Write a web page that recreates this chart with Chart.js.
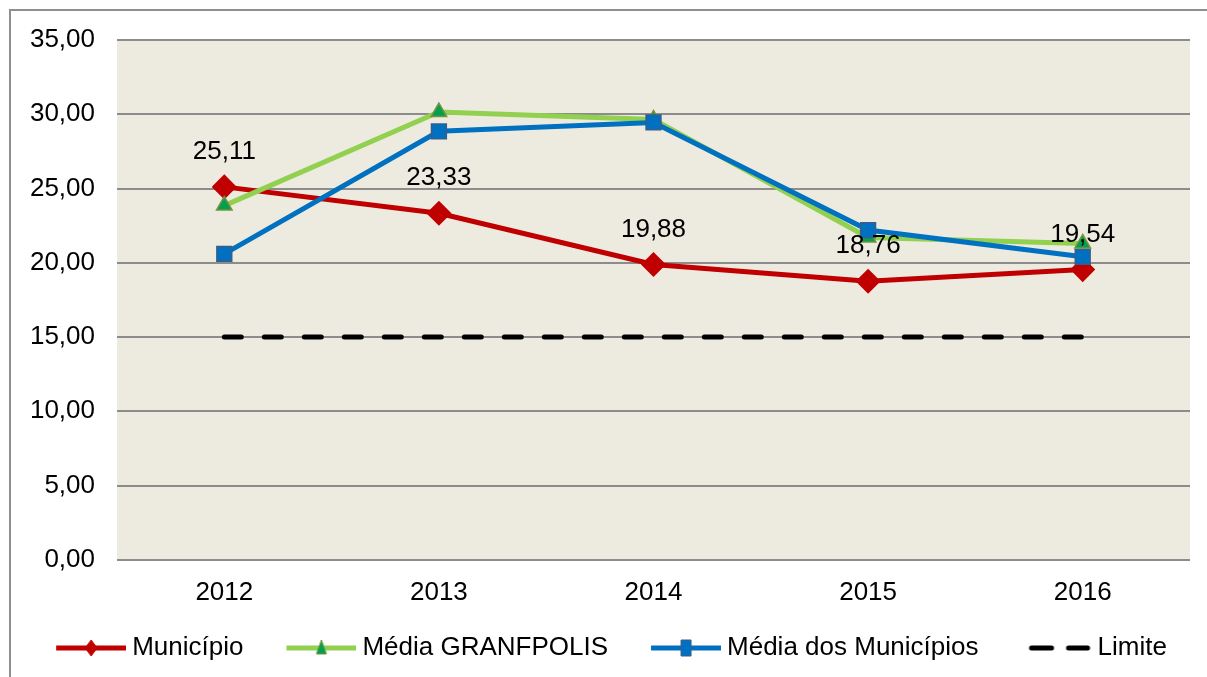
<!DOCTYPE html>
<html>
<head>
<meta charset="utf-8">
<script src="https://cdn.jsdelivr.net/npm/chart.js@4.4.1/dist/chart.umd.min.js"></script>
<style>
  html, body { margin: 0; padding: 0; background: #fff; overflow: hidden; }
  #frame { position: absolute; left: 9px; top: 9px; width: 1300px; height: 800px; border: 2px solid #8f8f8f; }
  #wrap { position: absolute; left: 0; top: 0; width: 1207px; height: 677px; }
</style>
</head>
<body>
<div id="frame"></div>
<div id="wrap"><canvas id="grafico"></canvas></div>
<script>
const anos = ['2012', '2013', '2014', '2015', '2016'];
const municipio = [25.11, 23.33, 19.88, 18.76, 19.54];
const mediaGranfpolis = [23.85, 30.15, 29.65, 21.7, 21.3];
const mediaMunicipios = [20.6, 28.85, 29.45, 22.2, 20.4];
const limite = [15, 15, 15, 15, 15];

const FONTE = '"Liberation Sans", Arial, sans-serif';
const TAM = 26;
const fmt = v => v.toFixed(2).replace('.', ',');

// icone da legenda: linha com marcador no meio (um pouco mais largo que a caixa,
// para a linha ficar colada ao texto)
function iconeLegenda(cor, estilo, preenche, borda, tracejado) {
    const c = document.createElement('canvas');
    c.width = 110; c.height = 22;
    const ctx = c.getContext('2d');
    ctx.strokeStyle = cor;
    ctx.lineWidth = 5;
    ctx.lineCap = 'round';
    ctx.beginPath();
    if (tracejado) {
        ctx.setLineDash([20, 17]);
        ctx.moveTo(50, 11); ctx.lineTo(106, 11);
    } else {
        ctx.lineCap = 'butt';
        ctx.moveTo(40, 11); ctx.lineTo(110, 11);
    }
    ctx.stroke();
    ctx.setLineDash([]);
    const x = 75, y = 11;
    ctx.fillStyle = preenche;
    ctx.strokeStyle = borda;
    ctx.lineWidth = 1;
    ctx.beginPath();
    if (estilo === 'rectRot') {
        ctx.moveTo(x, y - 8); ctx.lineTo(x + 6, y); ctx.lineTo(x, y + 8); ctx.lineTo(x - 6, y); ctx.closePath();
    } else if (estilo === 'triangle') {
        ctx.moveTo(x, y - 8); ctx.lineTo(x + 5, y + 6); ctx.lineTo(x - 5, y + 6); ctx.closePath();
    } else if (estilo === 'rect') {
        ctx.rect(x - 5, y - 8, 10, 16);
    } else {
        return c;
    }
    ctx.fill();
    ctx.stroke();
    return c;
}

const fundoPlot = {
    id: 'fundoPlot',
    beforeDraw(chart) {
        const a = chart.chartArea, ctx = chart.ctx;
        ctx.save();
        ctx.fillStyle = '#EDEBE0';
        ctx.fillRect(a.left, a.top, a.right - a.left, a.bottom - a.top);
        ctx.restore();
    }
};

const rotulos = {
    id: 'rotulos',
    afterDatasetsDraw(chart) {
        const ctx = chart.ctx;
        const meta = chart.getDatasetMeta(0);
        ctx.save();
        ctx.font = TAM + 'px ' + FONTE;
        ctx.fillStyle = '#000';
        ctx.textAlign = 'center';
        ctx.textBaseline = 'middle';
        meta.data.forEach((p, i) => {
            ctx.fillText(fmt(municipio[i]), p.x, p.y - 35);
        });
        ctx.restore();
    }
};

const icones = [
    iconeLegenda('#C00000', 'rectRot', '#C00000', '#C00000'),
    iconeLegenda('#92D050', 'triangle', '#00A050', '#77933C'),
    iconeLegenda('#0070C0', 'rect', '#0070C0', '#385D8A'),
    iconeLegenda('#000000', null, null, null, true)
];

new Chart(document.getElementById('grafico'), {
    type: 'line',
    data: {
        labels: anos,
        datasets: [
            {
                label: 'Município',
                data: municipio,
                borderColor: '#C00000',
                backgroundColor: '#C00000',
                borderWidth: 5,
                pointStyle: 'rectRot',
                pointRadius: 9,
                pointBorderColor: '#C00000',
                pointBackgroundColor: '#C00000',
                tension: 0,
                order: 4,
            },
            {
                label: 'Média GRANFPOLIS',
                data: mediaGranfpolis,
                borderColor: '#92D050',
                backgroundColor: '#92D050',
                borderWidth: 5,
                pointStyle: 'triangle',
                pointRadius: 9,
                pointBorderWidth: 1.5,
                pointBorderColor: '#77933C',
                pointBackgroundColor: '#00A050',
                tension: 0,
                order: 3,
            },
            {
                label: 'Média dos Municípios',
                data: mediaMunicipios,
                borderColor: '#0070C0',
                backgroundColor: '#0070C0',
                borderWidth: 5,
                pointStyle: 'rect',
                pointRadius: 10.5,
                pointBorderWidth: 1.5,
                pointBorderColor: '#385D8A',
                pointBackgroundColor: '#0070C0',
                tension: 0,
                order: 2,
            },
            {
                label: 'Limite',
                data: limite,
                borderColor: '#000000',
                borderWidth: 5,
                borderDash: [17, 23],
                borderCapStyle: 'round',
                pointRadius: 0,
                tension: 0,
                order: 1,
            },
        ],
    },
    options: {
        responsive: true,
        maintainAspectRatio: false,
        animation: false,
        layout: {
            padding: { top: 40, right: 17, left: 0, bottom: 6 },
        },
        plugins: {
            legend: {
                position: 'bottom',
                labels: {
                    usePointStyle: true,
                    pointStyleWidth: 96,
                    padding: 10,
                    color: '#000',
                    font: { family: FONTE, size: TAM },
                    generateLabels(chart) {
                        return chart.data.datasets.map((ds, i) => ({
                            text: ds.label,
                            pointStyle: icones[i],
                            fillStyle: 'transparent',
                            strokeStyle: 'transparent',
                            lineWidth: 0,
                            fontColor: '#000',
                            datasetIndex: i,
                        }));
                    },
                },
            },
            tooltip: { enabled: false },
        },
        scales: {
            x: {
                offset: true,
                grid: { display: false, drawTicks: false },
                border: { display: false },
                ticks: {
                    padding: 17,
                    color: '#000',
                    font: { family: FONTE, size: TAM },
                },
            },
            y: {
                min: 0,
                max: 35,
                afterFit(scale) { scale.width = 117; },
                grid: { color: '#8C8C8C', lineWidth: 2, drawTicks: false },
                border: { display: false },
                ticks: {
                    stepSize: 5,
                    padding: 22,
                    color: '#000',
                    font: { family: FONTE, size: TAM },
                    callback: v => fmt(v),
                },
            },
        },
    },
    plugins: [fundoPlot, rotulos],
});
</script>
</body>
</html>
